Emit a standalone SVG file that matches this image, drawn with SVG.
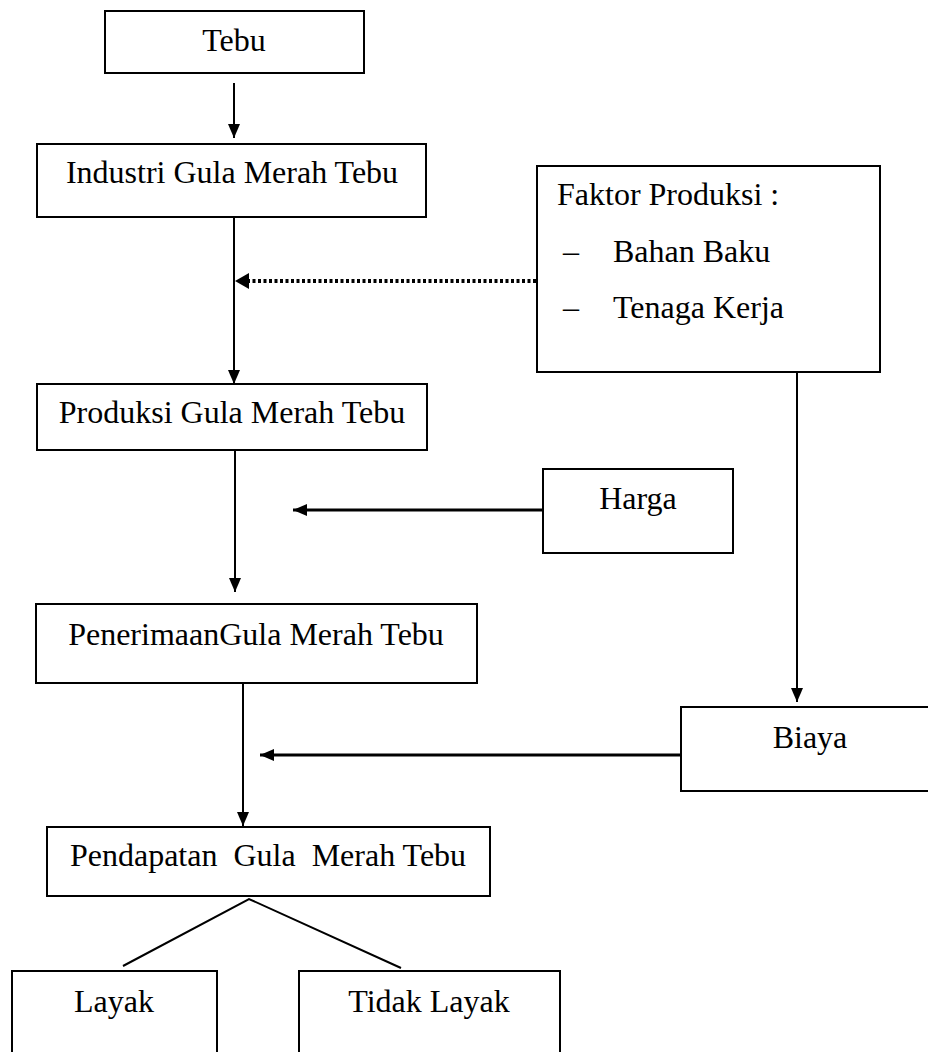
<svg xmlns="http://www.w3.org/2000/svg" width="928" height="1052" viewBox="0 0 928 1052">
<style>
.box{fill:#fff;stroke:#000;stroke-width:2}
.t{font-family:"Liberation Serif","Times New Roman",serif;font-size:32px;fill:#000}
.c{text-anchor:middle}
.ln{stroke:#000;stroke-width:2;fill:none}
.thick{stroke:#000;stroke-width:3;fill:none}
.dot{stroke:#000;stroke-width:4;stroke-dasharray:3 2.5;fill:none}
</style>
<defs>
<marker id="ah" markerUnits="userSpaceOnUse" markerWidth="14" markerHeight="14" refX="14" refY="7" orient="auto" viewBox="0 0 14 14">
<path d="M0,1 L14,7 L0,13 z" fill="#000"/>
</marker>
</defs>
<rect width="928" height="1052" fill="#fff"/>
<g id="connectors">
<line class="ln" x1="234" y1="83" x2="234" y2="138" marker-end="url(#ah)"/>
<line class="ln" x1="234" y1="217" x2="234" y2="384" marker-end="url(#ah)"/>
<line class="dot" x1="536" y1="281" x2="246" y2="281"/>
<path d="M235,281 L249,273 L249,289 z" fill="#000"/>
<line class="ln" x1="235" y1="450" x2="235" y2="592" marker-end="url(#ah)"/>
<line class="thick" x1="543" y1="510" x2="293" y2="510" marker-end="url(#ah)"/>
<line class="ln" x1="797" y1="372" x2="797" y2="702" marker-end="url(#ah)"/>
<line class="ln" x1="243" y1="683" x2="243" y2="826" marker-end="url(#ah)"/>
<line class="thick" x1="681" y1="755" x2="260" y2="755" marker-end="url(#ah)"/>
<polyline class="ln" points="123,966 249,899 401,968"/>
</g>
<g id="tebu">
<rect class="box" x="105" y="11" width="259" height="62"/>
<text class="t c" x="234" y="51">Tebu</text>
</g>
<g id="industri">
<rect class="box" x="37" y="144" width="389" height="73"/>
<text class="t c" x="232" y="183">Industri Gula Merah Tebu</text>
</g>
<g id="faktor">
<rect class="box" x="537" y="166" width="343" height="206"/>
<text class="t" x="557" y="205">Faktor Produksi :</text>
<text class="t" x="563" y="262">–</text>
<text class="t" x="613" y="262">Bahan Baku</text>
<text class="t" x="563" y="318">–</text>
<text class="t" x="613" y="318">Tenaga Kerja</text>
</g>
<g id="produksi">
<rect class="box" x="37" y="384" width="390" height="66"/>
<text class="t c" x="232" y="423">Produksi Gula Merah Tebu</text>
</g>
<g id="harga">
<rect class="box" x="543" y="469" width="190" height="84"/>
<text class="t c" x="638" y="509">Harga</text>
</g>
<g id="penerimaan">
<rect class="box" x="36" y="604" width="441" height="79"/>
<text class="t c" x="256" y="645">PenerimaanGula Merah Tebu</text>
</g>
<g id="biaya">
<rect class="box" x="681" y="707" width="260" height="84"/>
<text class="t c" x="810" y="748">Biaya</text>
</g>
<g id="pendapatan">
<rect class="box" x="47" y="827" width="443" height="69"/>
<text class="t c" x="268" y="866" xml:space="preserve" style="white-space:pre">Pendapatan  Gula  Merah Tebu</text>
</g>
<g id="layak">
<rect class="box" x="12" y="971" width="205" height="100"/>
<text class="t c" x="114" y="1012">Layak</text>
</g>
<g id="tidak-layak">
<rect class="box" x="299" y="971" width="261" height="100"/>
<text class="t c" x="429" y="1012">Tidak Layak</text>
</g>
</svg>
